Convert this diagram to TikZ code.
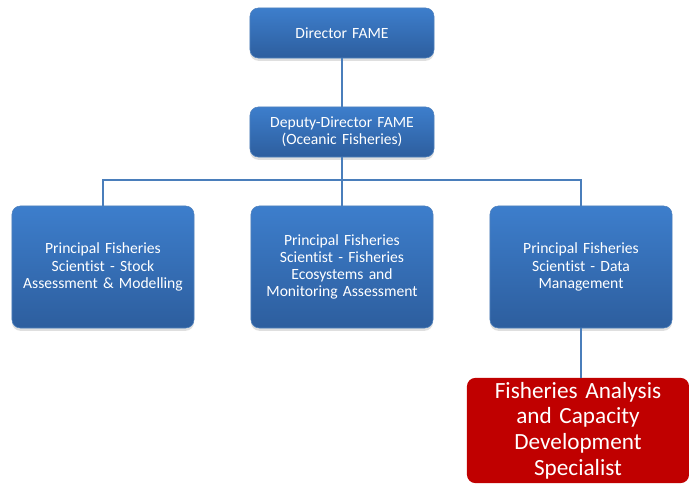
\documentclass[tikz,border=0pt]{standalone}
\usepackage{fontspec}
\setmainfont{Carlito}[Ligatures=NoCommon]
\usetikzlibrary{shadows,positioning}
\definecolor{boxtop}{HTML}{3D7ECC}
\definecolor{boxbot}{HTML}{2D5E9E}
\definecolor{boxline}{HTML}{4F81BD}
\definecolor{linkcol}{HTML}{4A7EBB}
\definecolor{redbox}{HTML}{C00000}

\begin{document}
\begin{tikzpicture}[x=0.025cm,y=-0.025cm,
	unit/.style={rounded corners=6pt, draw=boxline, line width=0.4pt, top color=boxtop, bottom color=boxbot,
		text=white, align=center, font=\fontsize{11.1}{12.2}\selectfont, inner sep=0pt,
		drop shadow={shadow xshift=0pt, shadow yshift=-2pt, opacity=0.25}},
	small/.style={unit, minimum width=4.6cm, text width=4.5cm, minimum height=1.25cm},
	big/.style={unit, minimum width=4.55cm, text width=4.45cm, minimum height=3.05cm},
	link/.style={draw=linkcol, line width=1pt}]
	\useasboundingbox (0,0) rectangle (689,484);
	% top of the chart
	\node[small] (dir) at (342,33) {Director FAME};
	\node[small] (dep) at (342,132) {Deputy-Director FAME\\(Oceanic Fisheries)};
	% the three principal scientists
	\node[big] (stock) at (103,267) {Principal Fisheries\\Scientist - Stock\\Assessment \& Modelling};
	\node[big] (eco) at (342,267) {Principal Fisheries\\Scientist - Fisheries\\Ecosystems and\\Monitoring Assessment};
	\node[big] (data) at (581,267) {Principal Fisheries\\Scientist - Data\\Management};
	% new position
	\node[rounded corners=6pt, fill=redbox, text=white, align=center, inner sep=0pt,
		minimum width=5.55cm, minimum height=2.63cm, text width=5.5cm,
		font=\fontsize{16.5}{18.3}\selectfont] (spec) at (578,430.5) {Fisheries Analysis\\and Capacity\\Development\\Specialist};
	\coordinate (bus) at (342,180);
	\draw[link] (dir) -- (dep);
	\draw[link] (dep) -- (bus);
	\draw[link] (bus) -| (stock);
	\draw[link] (bus) -- (eco);
	\draw[link] (bus) -| (data);
	\draw[link] (data.south) -- (data.south |- spec.north);
\end{tikzpicture}
\end{document}
